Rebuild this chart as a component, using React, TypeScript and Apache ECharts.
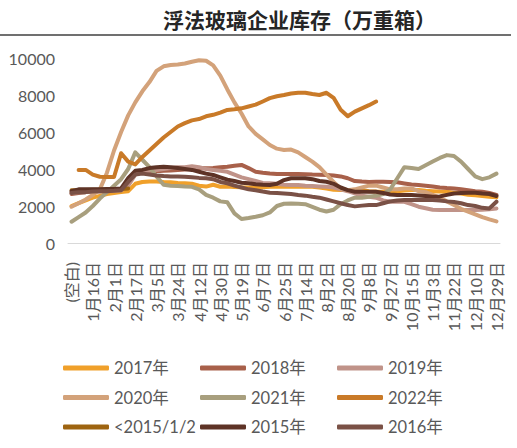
import * as echarts from 'echarts';
import { useEffect, useRef } from 'react';

const dates = [
  '(空白)', '1月5日', '1月10日',
  '1月16日', '1月21日', '1月26日',
  '2月1日', '2月6日', '2月11日',
  '2月17日', '2月22日', '2月28日',
  '3月5日', '3月11日', '3月18日',
  '3月24日', '3月30日', '4月6日',
  '4月12日', '4月18日', '4月24日',
  '4月30日', '5月7日', '5月13日',
  '5月19日', '5月25日', '6月1日',
  '6月7日', '6月13日', '6月19日',
  '6月25日', '7月2日', '7月8日',
  '7月14日', '7月20日', '7月27日',
  '8月2日', '8月8日', '8月14日',
  '8月20日', '8月27日', '9月2日',
  '9月8日', '9月14日', '9月21日',
  '9月27日', '10月3日', '10月9日',
  '10月15日', '10月22日', '10月28日',
  '11月3日', '11月9日', '11月16日',
  '11月22日', '11月28日', '12月4日',
  '12月10日', '12月16日', '12月23日',
  '12月29日',
];

const yTicks = [0, 2000, 4000, 6000, 8000, 10000];

const y2017 = [
  2000, 2150, 2300, 2450, 2550, 2650, 2700, 2750, 2800, 3200,
  3300, 3320, 3330, 3300, 3280, 3250, 3230, 3200, 3100, 3050,
  3150, 3040, 3050, 3030, 3010, 3000, 3010, 3020, 3040, 3040,
  3050, 3040, 3050, 3040, 3040, 3000, 2950, 2880, 2860, 2860,
  2860, 2850, 2800, 2780, 2770, 2780, 2800, 2840, 2860, 2860,
  2820, 2800, 2780, 2770, 2720, 2670, 2610, 2580, 2540, 2500,
  2470,
];
const y2018 = [
  2650, 2700, 2750, 2800, 2800, 2850, 2850, 2900, 3300, 3800,
  3850, 3850, 3880, 3900, 3920, 3950, 3970, 4000, 4050, 4040,
  4050, 4100, 4120, 4180, 4220, 4050, 3850, 3800, 3760, 3730,
  3730, 3730, 3730, 3720, 3700, 3690, 3680, 3650, 3600, 3500,
  3350, 3320, 3300, 3310, 3310, 3300, 3280, 3220, 3160, 3140,
  3100, 3050, 3000, 2970, 2950, 2900, 2850, 2800, 2770, 2700,
  2600,
];
const y2019 = [
  2700, 2750, 2750, 2780, 2800, 2800, 2820, 2850, 3100, 3700,
  3850, 3900, 3950, 4000, 4050, 4100, 4100, 4150, 4100, 4000,
  3950, 3900, 3850, 3700, 3550, 3450, 3350, 3250, 3230, 3200,
  3150, 3140, 3140, 3100, 3080, 3060, 3040, 3000, 2900, 2800,
  2680, 2550, 2500, 2450, 2300, 2230, 2230, 2230, 2100, 1960,
  1880, 1800, 1780, 1780, 1780, 1780, 1780, 1780, 1800, 1820,
  1870,
];
const y2020 = [
  1960, 2150, 2350, 2600, 2900, 3800, 5000, 6000, 6900, 7600,
  8200, 8700, 9300, 9550, 9620, 9650, 9700, 9800, 9880, 9850,
  9600, 9050, 8300, 7600, 7000, 6300, 5900, 5600, 5300, 5100,
  5030, 5050, 4900, 4650, 4400, 4100, 3700, 3300, 2950, 2850,
  2900, 3000, 3100, 3100, 3000, 2900, 2900, 2950, 2950, 2800,
  2750, 2600, 2450, 2250, 2050, 1850, 1700, 1550, 1400, 1280,
  1170,
];
const y2021 = [
  1150, 1400, 1650, 2000, 2400, 2750, 3100, 3450, 4000, 4900,
  4500, 4100, 3600, 3150, 3100, 3080, 3050, 3040, 2900, 2600,
  2450, 2250, 2200, 1600, 1300, 1350, 1420, 1500, 1650, 2000,
  2120, 2140, 2120, 2100, 1950, 1800, 1700, 1800, 2100, 2300,
  2450, 2450, 2500, 2550, 2650, 2900, 3500, 4100, 4050, 4000,
  4200, 4400, 4600, 4750, 4700, 4400, 4000, 3600, 3450, 3550,
  3750,
];
const y2022 = [
  null, 3950, 3950, 3700, 3580, 3570, 3570, 4850, 4400, 4250,
  4650, 5000, 5350, 5700, 6000, 6300, 6480, 6630, 6700, 6850,
  6930, 7050, 7190, 7230, 7280, 7380, 7480, 7650, 7830, 7930,
  8000, 8080, 8120, 8120, 8050, 8000, 8120, 7850, 7200, 6850,
  7100, 7280, 7450, 7650,
];
const yBefore2015 = [2850, 2850, 2870, 2880, 2880, 2900, 2900, 2920, 2950];
const y2015 = [
  2800, 2900, 2900, 2900, 2900, 2920, 2920, 2950, 3500, 3900,
  3950, 4050, 4100, 4120, 4100, 4050, 4000, 3950, 3850, 3750,
  3680, 3550, 3420, 3350, 3260, 3230, 3180, 3150, 3140, 3200,
  3400, 3500, 3500, 3500, 3450, 3350, 3310, 3200, 3000, 2860,
  2770, 2770, 2770, 2770, 2700, 2620, 2590, 2590, 2590, 2570,
  2540, 2500, 2520, 2600, 2680, 2700, 2720, 2720, 2680, 2650,
  2540,
];
const y2016 = [
  2700, 2750, 2750, 2780, 2800, 2800, 2820, 2850, 3300, 3700,
  3750, 3700, 3650, 3620, 3600, 3600, 3580, 3550, 3520, 3500,
  3450, 3300, 3230, 3100, 3000, 2900, 2850, 2780, 2720, 2700,
  2680, 2650, 2600, 2560, 2500, 2450, 2350, 2250, 2150, 2050,
  1980, 2020, 2050, 2050, 2150, 2250, 2300, 2320, 2320, 2320,
  2320, 2320, 2300, 2250, 2220, 2150, 2050, 2000, 1900, 1870,
  2230,
];

const seriesNames = ['2017年', '2018年', '2019年', '2020年', '2021年', '2022年', '<2015/1/2', '2015年', '2016年'];
const seriesData = [y2017, y2018, y2019, y2020, y2021, y2022, yBefore2015, y2015, y2016];
const seriesColors = ['#F0A02A', '#A8604A', '#C09389', '#D3A27A', '#A89F7E', '#C97A28', '#9E6410', '#5E3326', '#7A5146'];

const font = "Lato, 'Noto Sans CJK SC', sans-serif";
const textColor = '#595959';

export default function App() {
  const elRef = useRef<HTMLDivElement | null>(null);

  useEffect(() => {
    if (!elRef.current) return;
    const chart = echarts.init(elRef.current, undefined, { renderer: 'svg' });

    const legendCol = (left: number, names: string[]) => ({
      orient: 'vertical',
      left,
      top: 354,
      itemWidth: 46,
      itemHeight: 5,
      itemGap: 11.5,
      icon: 'roundRect',
      data: names,
      textStyle: { fontFamily: font, fontSize: 16.5, color: textColor, lineHeight: 18 },
    });

    chart.setOption({
      animation: false,
      title: {
        text: '浮法玻璃企业库存（万重箱）',
        left: 158,
        top: 3,
        textStyle: { fontFamily: "'Noto Sans CJK SC', sans-serif", fontSize: 21, fontWeight: 'bold', color: '#262626' },
      },
      graphic: [
        { type: 'line', shape: { x1: 0, y1: 35, x2: 511, y2: 35 }, style: { stroke: '#404040', lineWidth: 1.5 } },
      ],
      legend: [
        legendCol(58, [seriesNames[0], seriesNames[3], seriesNames[6]]),
        legendCol(195, [seriesNames[1], seriesNames[4], seriesNames[7]]),
        legendCol(332, [seriesNames[2], seriesNames[5], seriesNames[8]]),
      ],
      grid: { left: 68, right: 17, top: 58, bottom: 205, containLabel: false },
      xAxis: {
        type: 'category',
        data: dates,
        boundaryGap: true,
        axisLine: { show: true, lineStyle: { color: '#D9D9D9', width: 1 } },
        axisTick: { show: false },
        axisLabel: {
          interval: 2,
          rotate: 90,
          margin: 19,
          fontFamily: font,
          fontSize: 16,
          color: textColor,
        },
      },
      yAxis: {
        type: 'value',
        min: yTicks[0],
        max: yTicks[yTicks.length - 1],
        interval: 2000,
        axisLine: { show: false },
        axisTick: { show: false },
        splitLine: { show: false },
        axisLabel: {
          margin: 13,
          fontFamily: font,
          fontSize: 16,
          color: textColor,
          formatter: (v: number) => String(v),
        },
      },
      series: seriesNames.map((name, i) => ({
        name,
        type: 'line',
        data: seriesData[i],
        symbol: 'none',
        smooth: false,
        color: seriesColors[i],
        lineStyle: { width: 4, color: seriesColors[i], cap: 'round', join: 'round' },
      })),
    });

    return () => {
      chart.dispose();
    };
  }, []);

  return <div ref={elRef} style={{ position: 'fixed', left: 0, top: 0, width: 517, height: 448, background: '#fff' }} />;
}
